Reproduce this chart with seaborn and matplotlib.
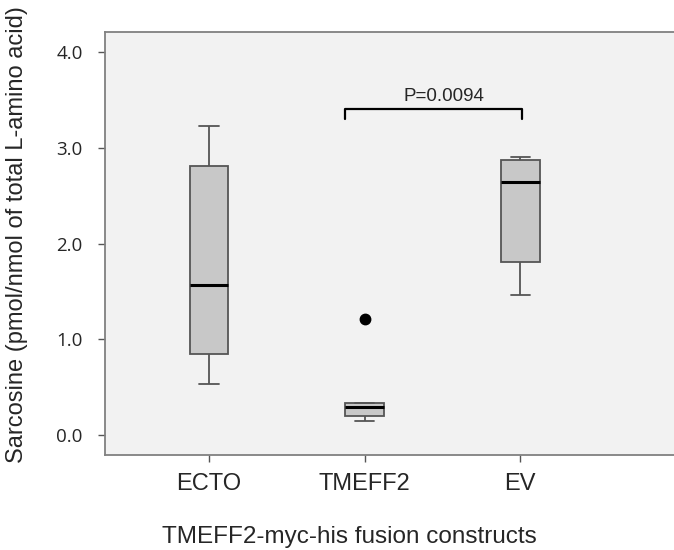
import numpy as np
import pandas as pd
import seaborn as sns
import matplotlib.pyplot as plt

# values (5 samples per construct)
ecto = [0.53, 0.85, 1.57, 2.81, 3.23]
tmeff2 = [0.15, 0.20, 0.29, 0.335, 1.21]
ev = [1.46, 1.81, 2.64, 2.87, 2.91]
groups = ["ECTO", "TMEFF2", "EV"]
yticks = [0.0, 1.0, 2.0, 3.0, 4.0]
p_label = "P=0.0094"

df = pd.DataFrame({
    "construct": ["ECTO"] * len(ecto) + ["TMEFF2"] * len(tmeff2) + ["EV"] * len(ev),
    "sarcosine": ecto + tmeff2 + ev,
})

sns.set_style("white")
plt.rcParams['font.family'] = ['Liberation Sans', 'DejaVu Sans']

fig = plt.figure(figsize=(6.74, 5.5), dpi=100)
ax = fig.add_axes([105 / 674, 1 - 455 / 550, 569 / 674, (455 - 31.7) / 550])
ax.set_facecolor('#f2f2f2')

sns.boxplot(data=df, x="construct", y="sarcosine", order=groups, ax=ax,
            width=0.25, color='#c8c8c8', linecolor='#555555', linewidth=1.3,
            saturation=1,
            medianprops=dict(color='black', linewidth=2.2),
            flierprops=dict(marker='o', markerfacecolor='black',
                            markeredgecolor='black', markersize=7.5))

ax.set_xlim(-0.668, 2.987)
ax.set_ylim(-0.21, 4.215)
ax.set_yticks(yticks)
ax.set_yticklabels([f"{v:.1f}" for v in yticks], family='Open Sans', fontsize=13.5)
ax.tick_params(axis='x', labelsize=17, length=5, width=1, color='#555555', pad=8,
               bottom=True)
ax.tick_params(axis='y', length=5, width=1, color='#555555', pad=11, left=True)

for side in ['left', 'bottom', 'top']:
    ax.spines[side].set_color('#808080')
    ax.spines[side].set_linewidth(1.3)
ax.spines['right'].set_visible(False)

ax.set_xlabel("TMEFF2-myc-his fusion constructs", fontsize=17.5)
ax.xaxis.set_label_coords((349 - 105) / 569, (455 - 526) / 423.3)
ax.set_ylabel("Sarcosine (pmol/nmol of total L-amino acid)", fontsize=17)
ax.yaxis.set_label_coords(-(105 - 28) / 569, (455 - 235) / 423.3)

# significance bracket TMEFF2 vs EV
bx = [0.872, 0.872, 2.013, 2.013]
by = [3.30, 3.405, 3.405, 3.30]
ax.plot(bx, by, color='black', linewidth=1.6)
ax.text(1.507, 3.45, p_label, ha='center', va='bottom', fontsize=13.5)

fig.savefig('out.png', dpi=100)
